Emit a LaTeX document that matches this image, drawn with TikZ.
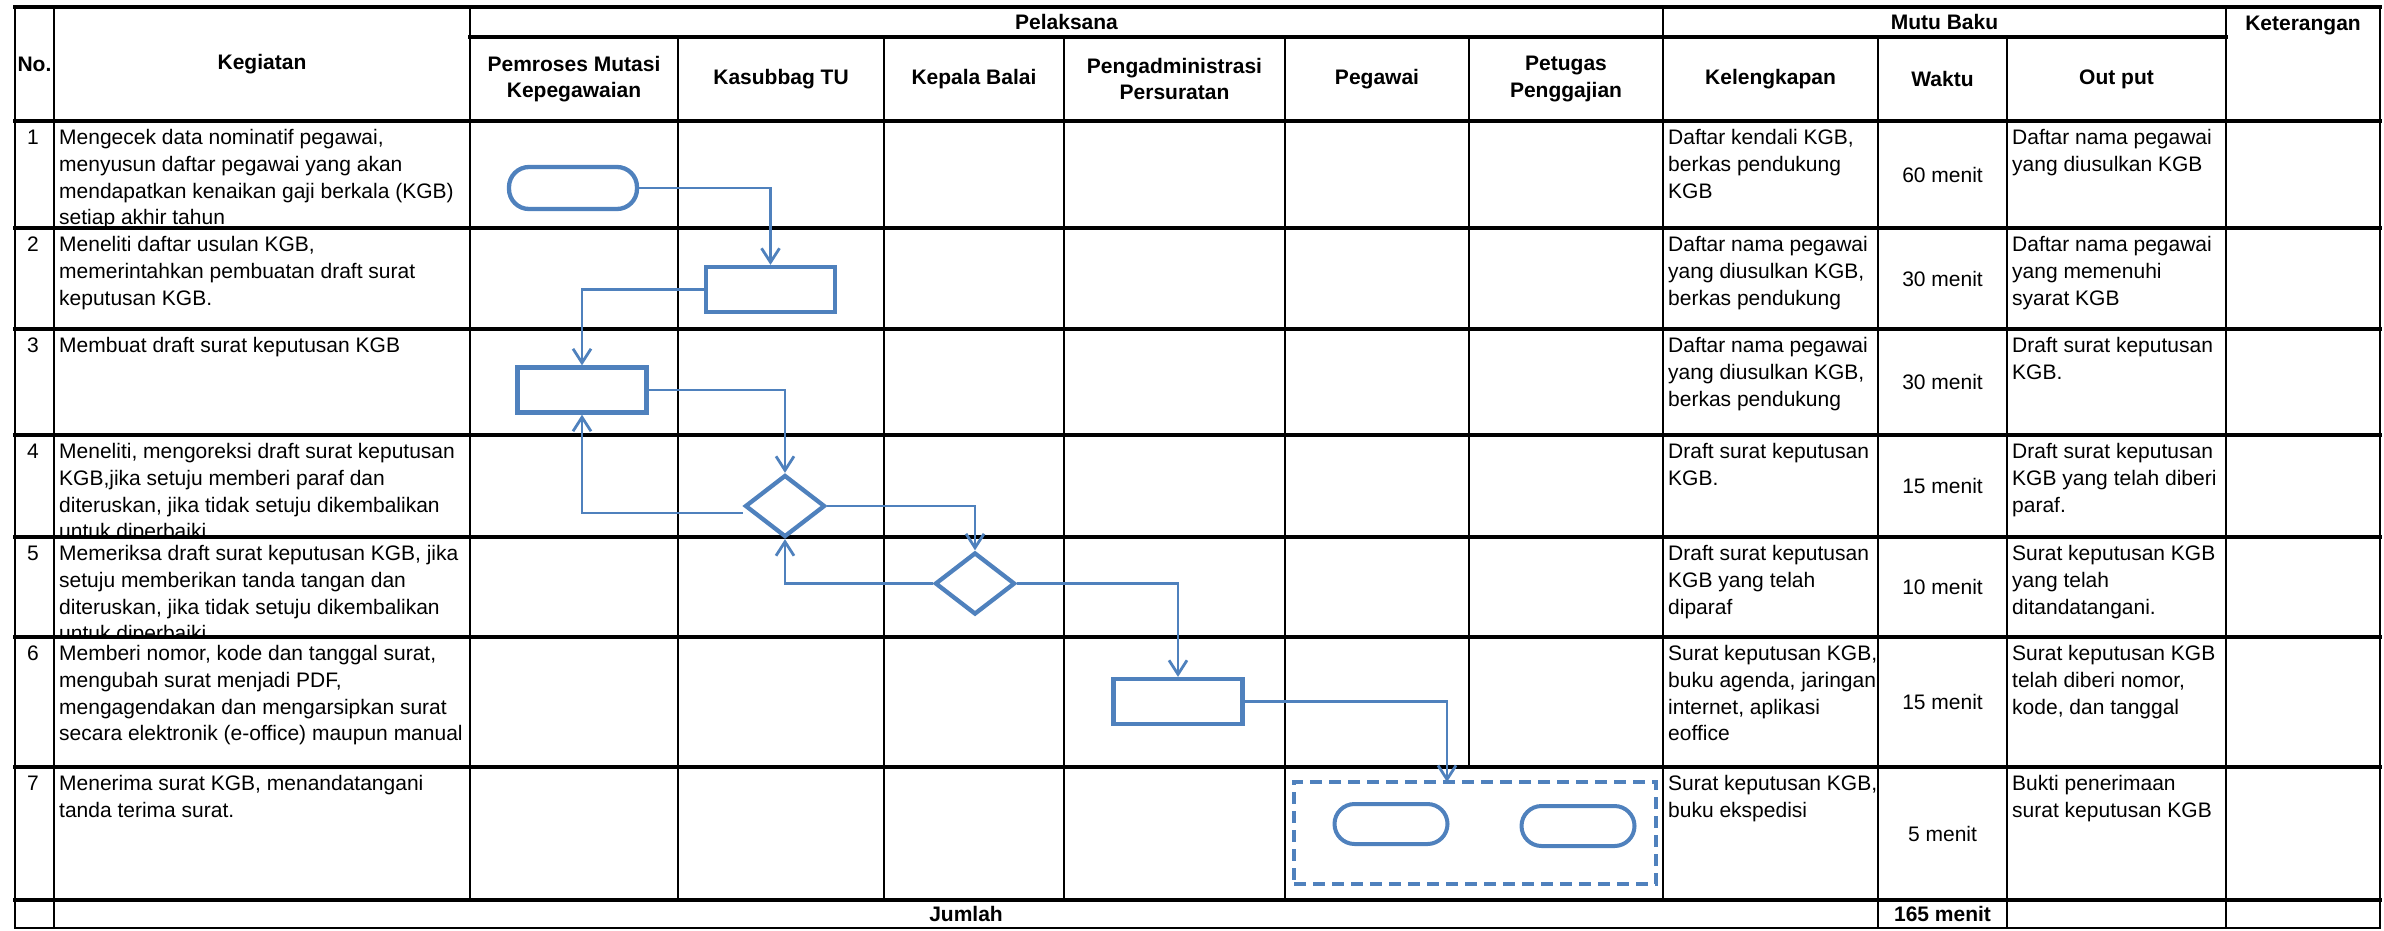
\documentclass[tikz,border=0pt]{standalone}
\usepackage{fontspec}
\setmainfont{Liberation Sans}
\usetikzlibrary{arrows.meta,shapes.geometric}
\definecolor{flowblue}{HTML}{4F81BD}
\newcommand{\cellfont}{\fontsize{21}{26.7}\selectfont}
% one activity row: id, top, bottom, text
\newcommand{\kegiatan}[4]{%
  \node[numtext] (no#1) at (39,#2+23.5) {#1};
  \begin{scope}
    \clip (54,#2) rectangle (470,#3);
    \node[celltext] (keg#1) at (59,#2+4.8) {\strut #4};
  \end{scope}}
% quality columns of one row: id, top, bottom, kelengkapan, waktu, output
\newcommand{\mutu}[6]{%
  \node[celltext] (kel#1) at (1668,#2+4.8) {\strut #4};
  \node[waktutext] (wkt#1) at (1942.5,{(#2+#3)/2}) {#5};
  \node[celltext] (out#1) at (2012,#2+4.8) {\strut #6};}
\tikzset{
  rowline/.style={line width=4.2pt, line cap=rect},
  colline/.style={line width=2.9pt, line cap=rect},
  headtext/.style={font=\cellfont\bfseries, align=center, inner sep=0},
  celltext/.style={font=\cellfont, anchor=north west, align=left, inner sep=0},
  numtext/.style={font=\cellfont, anchor=base east, inner sep=0},
  waktutext/.style={font=\cellfont, inner sep=0},
  procbox/.style={draw=flowblue, line width=4.3pt, fill=white, minimum width=129pt, minimum height=45pt, inner sep=0},
  terminal/.style={draw=flowblue, line width=4.3pt, fill=white, rounded corners=20pt, minimum width=128pt, minimum height=42pt, inner sep=0},
  decision/.style={diamond, draw=flowblue, line width=4.3pt, fill=white, minimum width=80pt, minimum height=62pt, inner sep=0},
  groupbox/.style={draw=flowblue, line width=4pt, dash pattern=on 12pt off 7pt, minimum width=362pt, minimum height=102pt, inner sep=0},
  flow/.style={draw=flowblue, line width=2.8pt, -{Straight Barb[length=14pt, width=18pt]}}
}
\begin{document}
\begin{tikzpicture}[x=1pt, y=-1pt]
\useasboundingbox (0,0) rectangle (2384,930);
% Header
\node[headtext] (hno) at (34.5,64) {No.};
\node[headtext] (hkeg) at (262,64) {Kegiatan};
\node[headtext] (hpel) at (1066.5,22) {Pelaksana};
\node[headtext] (hmutu) at (1944.5,22) {Mutu Baku};
\node[headtext] (hket) at (2303,25) {Keterangan};
\node[headtext] (hpem) at (574,79) {Pemroses Mutasi\\Kepegawaian};
\node[headtext] (hkas) at (781,79) {Kasubbag TU};
\node[headtext] (hkep) at (974,79) {Kepala Balai};
\node[headtext] (hpeng) at (1174.5,79) {Pengadministrasi\\Persuratan};
\node[headtext] (hpeg) at (1377,79) {Pegawai};
\node[headtext] (hpet) at (1566,79) {Petugas\\Penggajian};
\node[headtext] (hkel) at (1770.5,79) {Kelengkapan};
\node[headtext] (hwkt) at (1942.5,79) {Waktu};
\node[headtext] (hout) at (2116.5,79) {Out put};
% Activities
\kegiatan{1}{121}{228}{Mengecek data nominatif pegawai,\\menyusun daftar pegawai yang akan\\mendapatkan kenaikan gaji berkala (KGB)\\setiap akhir tahun}
\kegiatan{2}{228}{329}{Meneliti daftar usulan KGB,\\memerintahkan pembuatan draft surat\\keputusan KGB.}
\kegiatan{3}{329}{435}{Membuat draft surat keputusan KGB}
\kegiatan{4}{435}{537}{Meneliti, mengoreksi draft surat keputusan\\KGB,jika setuju memberi paraf dan\\diteruskan, jika tidak setuju dikembalikan\\untuk diperbaiki.}
\kegiatan{5}{537}{637}{Memeriksa draft surat keputusan KGB, jika\\setuju memberikan tanda tangan dan\\diteruskan, jika tidak setuju dikembalikan\\untuk diperbaiki.}
\kegiatan{6}{637}{767}{Memberi nomor, kode dan tanggal surat,\\mengubah surat menjadi PDF,\\mengagendakan dan mengarsipkan surat\\secara elektronik (e-office) maupun manual}
\kegiatan{7}{767}{900}{Menerima surat KGB, menandatangani\\tanda terima surat.}
% Mutu baku
\mutu{1}{121}{228}{Daftar kendali KGB,\\berkas pendukung\\KGB}{60 menit}{Daftar nama pegawai\\yang diusulkan KGB}
\mutu{2}{228}{329}{Daftar nama pegawai\\yang diusulkan KGB,\\berkas pendukung}{30 menit}{Daftar nama pegawai\\yang memenuhi\\syarat KGB}
\mutu{3}{329}{435}{Daftar nama pegawai\\yang diusulkan KGB,\\berkas pendukung}{30 menit}{Draft surat keputusan\\KGB.}
\mutu{4}{435}{537}{Draft surat keputusan\\KGB.}{15 menit}{Draft surat keputusan\\KGB yang telah diberi\\paraf.}
\mutu{5}{537}{637}{Draft surat keputusan\\KGB yang telah\\diparaf}{10 menit}{Surat keputusan KGB\\yang telah\\ditandatangani.}
\mutu{6}{637}{767}{Surat keputusan KGB,\\buku agenda, jaringan\\internet, aplikasi\\eoffice}{15 menit}{Surat keputusan KGB\\telah diberi nomor,\\kode, dan tanggal}
\mutu{7}{767}{900}{Surat keputusan KGB,\\buku ekspedisi}{5 menit}{Bukti penerimaan\\surat keputusan KGB}
% Total
\node[headtext] (jml) at (966,914) {Jumlah};
\node[headtext] (total) at (1942.5,914) {165 menit};
% Table lines
\draw[rowline] (15,7) -- (2380,7);
\draw[rowline] (470,37) -- (2226,37);
\foreach \y in {121,228,329,435,537,637,767,900}
  \draw[rowline] (15,\y) -- (2380,\y);
\draw[rowline, line width=2.5pt] (15,928) -- (2380,928);
\foreach \x in {15,54,2226,2380}
  \draw[colline] (\x,7) -- (\x,928);
\foreach \x in {470,1663}
  \draw[colline] (\x,7) -- (\x,900);
\foreach \x in {678,884,1064,1285}
  \draw[colline] (\x,37) -- (\x,900);
\draw[colline] (1469,37) -- (1469,767); % merged in row 7
\foreach \x in {1878,2007}
  \draw[colline] (\x,37) -- (\x,928);
% Flow
\node[terminal] (s1) at (573,188) {};
\node[procbox] (b2) at (770.5,289.5) {};
\node[procbox] (b3) at (582,390) {};
\node[decision] (d4) at (785,506) {};
\node[decision] (d5) at (975,583.5) {};
\node[procbox] (b6) at (1178,701.5) {};
\node[groupbox] (g7) at (1475,833) {};
\node[terminal, line width=4pt, minimum width=113pt, minimum height=40pt] (s7a) at (1391,824) {};
\node[terminal, line width=4pt, minimum width=113pt, minimum height=40pt] (s7b) at (1578,826) {};
\coordinate (in7) at (1447,782);
\draw[flow] (s1.east) -| (b2.north);
\draw[flow] (b2.west) -| (b3.north);
\draw[flow] (b3.east) -| (d4.north);
\draw[flow] ([yshift=-7pt]d4.west) -| (b3.south);
\draw[flow] (d4.east) -| (d5.north);
\draw[flow] (d5.west) -| (d4.south);
\draw[flow] (d5.east) -| (b6.north);
\draw[flow] (b6.east) -| (in7);
\end{tikzpicture}
\end{document}
